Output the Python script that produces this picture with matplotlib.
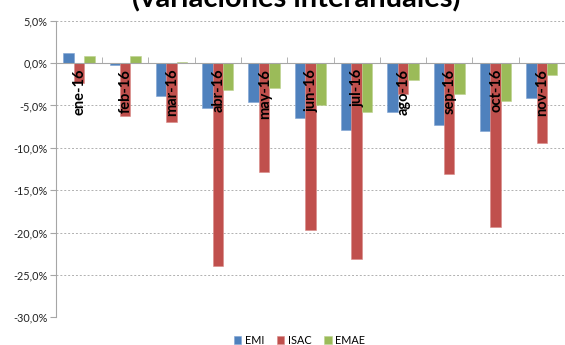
import matplotlib
matplotlib.use("Agg")
import matplotlib.pyplot as plt
import numpy as np
from matplotlib.ticker import FuncFormatter, MultipleLocator

EMI_BLUE = "#4F81BD"
ISAC_RED = "#C0504D"
EMAE_GREEN = "#9BBB59"
AXIS_GRAY = "#A6A6A6"

months = ["ene-16", "feb-16", "mar-16", "abr-16", "may-16", "jun-16",
          "jul-16", "ago-16", "sep-16", "oct-16", "nov-16"]
emi = [1.2, -0.2, -3.9, -5.3, -4.6, -6.5, -7.85, -5.8, -7.3, -8.0, -4.1]
isac = [-2.4, -6.2, -6.9, -24.0, -12.9, -19.7, -23.1, -3.7, -13.1, -19.3, -9.4]
emae = [0.8, 0.85, 0.1, -3.2, -3.0, -4.9, -5.8, -2.05, -3.7, -4.5, -1.4]

plt.rcParams["font.family"] = ["Lato", "DejaVu Sans"]

fig = plt.figure(figsize=(5.65, 3.45), dpi=100)
ax = fig.add_axes([0.0988, 0.0803, 0.9012, 0.8597])

x = np.arange(len(months))
w = 0.225
ax.bar(x - w, emi, w, color=EMI_BLUE, label="EMI", edgecolor="#7FA3D3", linewidth=0.4)
ax.bar(x, isac, w, color=ISAC_RED, label="ISAC", edgecolor="#D98A88", linewidth=0.4)
ax.bar(x + w, emae, w, color=EMAE_GREEN, label="EMAE", edgecolor="#BCD38F", linewidth=0.4)

ax.set_ylim(-30, 5)
ax.set_xlim(-0.5, 10.22)
ax.yaxis.set_major_locator(MultipleLocator(5))
ax.yaxis.set_major_formatter(FuncFormatter(lambda v, _: f"{v:.1f}%".replace(".", ",")))
ax.tick_params(axis="y", labelsize=7.8, length=4, color=AXIS_GRAY, labelcolor="#222222", pad=2)
ax.grid(axis="y", linestyle=(0, (2, 2)), color="#B0B0B0", linewidth=0.7)
ax.set_axisbelow(True)

# category axis sits on the zero line, labels hang inside the plot over the bars
ax.spines[["top", "right"]].set_visible(False)
ax.spines["left"].set_color(AXIS_GRAY)
ax.spines["bottom"].set_position(("data", 0))
ax.spines["bottom"].set_color(AXIS_GRAY)
ax.set_xticks(x, [""] * len(months))
ax.set_xticks(x + 0.5, minor=True)
ax.tick_params(axis="x", which="major", length=0)
ax.tick_params(axis="x", which="minor", length=4, direction="in", color=AXIS_GRAY)
for xi, m in zip(x, months):
    ax.annotate(m, (xi, 0), xytext=(0.5, -4), textcoords="offset points",
                rotation=90, ha="center", va="top", fontsize=10.5,
                fontweight="bold", zorder=5)

fig.text(0.525, 0.977, "(variaciones interanuales)", ha="center", va="baseline",
         fontsize=21, fontweight="bold")

fig.legend(loc="lower center", bbox_to_anchor=(0.53, -0.03), ncol=3, frameon=False,
           fontsize=7.8, handlelength=0.7, handleheight=0.7, handletextpad=0.3,
           columnspacing=1.2)

plt.savefig("out.png", dpi=100)
plt.close()
